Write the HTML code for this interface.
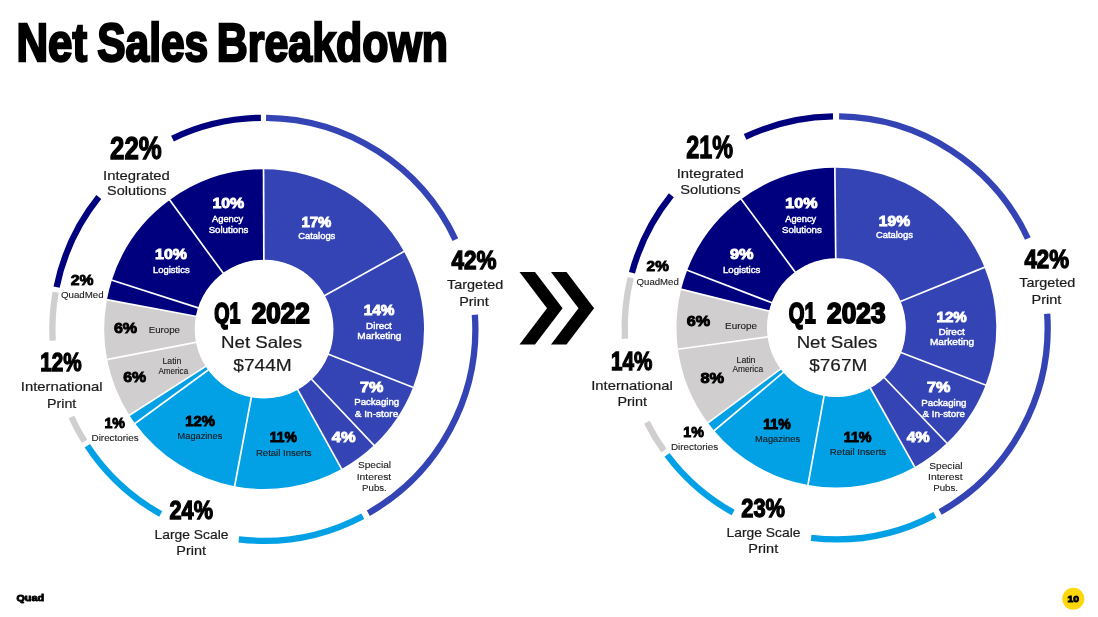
<!DOCTYPE html>
<html lang="en"><head><meta charset="utf-8"><title>Net Sales Breakdown</title>
<style>
html,body{margin:0;padding:0;background:#fff;}
body{width:1098px;height:617px;overflow:hidden;font-family:"Liberation Sans",sans-serif;}
svg{display:block}
text{font-family:"Liberation Sans",sans-serif;fill:#111;white-space:pre}
.title{font-weight:700;fill:#000;stroke:#000;stroke-width:2.4px;stroke-linejoin:miter;stroke-miterlimit:2.5}
.cond{font-weight:700;fill:#000;stroke:#000;stroke-width:1.3px;stroke-linejoin:miter;stroke-miterlimit:2.5}
.condq{font-weight:700;fill:#000;stroke:#000;stroke-width:1.9px;stroke-linejoin:miter;stroke-miterlimit:2.5}
.hv{font-weight:700;stroke-width:0.9px;stroke-linejoin:miter;stroke-miterlimit:2.5}
.lab{font-weight:400;fill:#1c1c1c;stroke:#1c1c1c;stroke-width:0.2px}
.sm{font-weight:400;stroke-width:0.12px}
.smw{font-weight:400;stroke-width:0.45px}
</style></head>
<body>
<svg width="1098" height="617" viewBox="0 0 1098 617">
<rect width="1098" height="617" fill="#fff"/>
<path d="M263.54 169.15A159.9 159.9 0 0 1 403.95 251.53L324.36 295.65A68.9 68.9 0 0 0 263.86 260.15Z" fill="#3444b4"/>
<path d="M403.95 251.53A159.9 159.9 0 0 1 412.98 387.39L328.25 354.19A68.9 68.9 0 0 0 324.36 295.65Z" fill="#3444b4"/>
<path d="M412.98 387.39A159.9 159.9 0 0 1 373.97 445.23L311.44 379.11A68.9 68.9 0 0 0 328.25 354.19Z" fill="#3444b4"/>
<path d="M373.97 445.23A159.9 159.9 0 0 1 341.62 468.90L297.50 389.31A68.9 68.9 0 0 0 311.44 379.11Z" fill="#3444b4"/>
<path d="M341.62 468.90A159.9 159.9 0 0 1 234.69 486.22L251.43 396.77A68.9 68.9 0 0 0 297.50 389.31Z" fill="#02a0e4"/>
<path d="M234.69 486.22A159.9 159.9 0 0 1 135.07 423.49L208.50 369.74A68.9 68.9 0 0 0 251.43 396.77Z" fill="#02a0e4"/>
<path d="M135.07 423.49A159.9 159.9 0 0 1 129.39 415.20L206.06 366.17A68.9 68.9 0 0 0 208.50 369.74Z" fill="#02a0e4"/>
<path d="M129.39 415.20A159.9 159.9 0 0 1 107.14 359.56L196.47 342.20A68.9 68.9 0 0 0 206.06 366.17Z" fill="#d0cece"/>
<path d="M107.14 359.56A159.9 159.9 0 0 1 106.93 299.64L196.38 316.38A68.9 68.9 0 0 0 196.47 342.20Z" fill="#d0cece"/>
<path d="M106.93 299.64A159.9 159.9 0 0 1 111.85 280.17L198.50 307.99A68.9 68.9 0 0 0 196.38 316.38Z" fill="#00007e"/>
<path d="M111.85 280.17A159.9 159.9 0 0 1 169.66 200.02L223.41 273.45A68.9 68.9 0 0 0 198.50 307.99Z" fill="#00007e"/>
<path d="M169.66 200.02A159.9 159.9 0 0 1 263.54 169.15L263.86 260.15A68.9 68.9 0 0 0 223.41 273.45Z" fill="#00007e"/>
<line x1="263.86" y1="260.65" x2="263.54" y2="168.65" stroke="#fff" stroke-width="1.7"/>
<line x1="323.92" y1="295.89" x2="404.39" y2="251.29" stroke="#fff" stroke-width="1.7"/>
<line x1="327.78" y1="354.01" x2="413.44" y2="387.58" stroke="#fff" stroke-width="1.7"/>
<line x1="311.10" y1="378.75" x2="374.31" y2="445.59" stroke="#fff" stroke-width="1.7"/>
<line x1="297.26" y1="388.87" x2="341.86" y2="469.34" stroke="#fff" stroke-width="1.7"/>
<line x1="251.52" y1="396.28" x2="234.59" y2="486.71" stroke="#fff" stroke-width="1.7"/>
<line x1="208.90" y1="369.45" x2="134.66" y2="423.78" stroke="#fff" stroke-width="1.7"/>
<line x1="206.48" y1="365.90" x2="128.97" y2="415.47" stroke="#fff" stroke-width="1.7"/>
<line x1="196.96" y1="342.10" x2="106.65" y2="359.66" stroke="#fff" stroke-width="1.7"/>
<line x1="196.87" y1="316.47" x2="106.44" y2="299.54" stroke="#fff" stroke-width="1.7"/>
<line x1="198.97" y1="308.14" x2="111.38" y2="280.02" stroke="#fff" stroke-width="1.7"/>
<line x1="223.70" y1="273.85" x2="169.37" y2="199.61" stroke="#fff" stroke-width="1.7"/>
<circle cx="264.1" cy="329.05" r="69.4" fill="#fff"/>
<path d="M266.06 117.81A211.5 211.5 0 0 1 455.38 239.58" fill="none" stroke="#3444b4" stroke-width="6.3"/>
<path d="M474.85 314.73A211.5 211.5 0 0 1 368.32 513.20" fill="none" stroke="#3444b4" stroke-width="6.3"/>
<path d="M362.82 516.22A211.5 211.5 0 0 1 238.81 539.31" fill="none" stroke="#02a0e4" stroke-width="6.3"/>
<path d="M160.67 513.92A211.5 211.5 0 0 1 87.28 445.73" fill="none" stroke="#02a0e4" stroke-width="6.3"/>
<path d="M84.49 441.38A211.5 211.5 0 0 1 71.39 417.01" fill="none" stroke="#d0cece" stroke-width="6.3"/>
<path d="M52.65 340.55A211.5 211.5 0 0 1 55.63 292.21" fill="none" stroke="#d0cece" stroke-width="6.3"/>
<path d="M56.60 287.13A211.5 211.5 0 0 1 98.79 197.06" fill="none" stroke="#00007e" stroke-width="6.3"/>
<path d="M172.46 138.56A211.5 211.5 0 0 1 260.90 117.82" fill="none" stroke="#00007e" stroke-width="6.3"/>
<path d="M834.87 167.71A159.9 159.9 0 0 1 984.50 267.31L900.22 301.62A68.9 68.9 0 0 0 835.74 258.70Z" fill="#3444b4"/>
<path d="M984.50 267.31A159.9 159.9 0 0 1 985.63 385.03L900.70 352.35A68.9 68.9 0 0 0 900.22 301.62Z" fill="#3444b4"/>
<path d="M985.63 385.03A159.9 159.9 0 0 1 946.97 443.11L884.05 377.37A68.9 68.9 0 0 0 900.70 352.35Z" fill="#3444b4"/>
<path d="M946.97 443.11A159.9 159.9 0 0 1 914.77 466.98L870.17 387.66A68.9 68.9 0 0 0 884.05 377.37Z" fill="#3444b4"/>
<path d="M914.77 466.98A159.9 159.9 0 0 1 807.95 484.95L824.14 395.40A68.9 68.9 0 0 0 870.17 387.66Z" fill="#02a0e4"/>
<path d="M807.95 484.95A159.9 159.9 0 0 1 714.18 430.70L783.74 372.03A68.9 68.9 0 0 0 824.14 395.40Z" fill="#02a0e4"/>
<path d="M714.18 430.70A159.9 159.9 0 0 1 707.95 422.82L781.05 368.63A68.9 68.9 0 0 0 783.74 372.03Z" fill="#02a0e4"/>
<path d="M707.95 422.82A159.9 159.9 0 0 1 677.96 349.16L768.13 336.89A68.9 68.9 0 0 0 781.05 368.63Z" fill="#d0cece"/>
<path d="M677.96 349.16A159.9 159.9 0 0 1 681.15 289.32L769.50 311.11A68.9 68.9 0 0 0 768.13 336.89Z" fill="#d0cece"/>
<path d="M681.15 289.32A159.9 159.9 0 0 1 687.17 270.17L772.10 302.85A68.9 68.9 0 0 0 769.50 311.11Z" fill="#00007e"/>
<path d="M687.17 270.17A159.9 159.9 0 0 1 741.18 199.15L795.37 272.25A68.9 68.9 0 0 0 772.10 302.85Z" fill="#00007e"/>
<path d="M741.18 199.15A159.9 159.9 0 0 1 834.87 167.71L835.74 258.70A68.9 68.9 0 0 0 795.37 272.25Z" fill="#00007e"/>
<line x1="835.74" y1="259.20" x2="834.86" y2="167.21" stroke="#fff" stroke-width="1.7"/>
<line x1="899.75" y1="301.81" x2="984.96" y2="267.12" stroke="#fff" stroke-width="1.7"/>
<line x1="900.24" y1="352.17" x2="986.10" y2="385.21" stroke="#fff" stroke-width="1.7"/>
<line x1="883.70" y1="377.01" x2="947.32" y2="443.47" stroke="#fff" stroke-width="1.7"/>
<line x1="869.93" y1="387.22" x2="915.02" y2="467.41" stroke="#fff" stroke-width="1.7"/>
<line x1="824.23" y1="394.91" x2="807.86" y2="485.44" stroke="#fff" stroke-width="1.7"/>
<line x1="784.12" y1="371.70" x2="713.80" y2="431.02" stroke="#fff" stroke-width="1.7"/>
<line x1="781.45" y1="368.33" x2="707.54" y2="423.12" stroke="#fff" stroke-width="1.7"/>
<line x1="768.62" y1="336.82" x2="677.47" y2="349.23" stroke="#fff" stroke-width="1.7"/>
<line x1="769.99" y1="311.23" x2="680.66" y2="289.20" stroke="#fff" stroke-width="1.7"/>
<line x1="772.56" y1="303.03" x2="686.70" y2="269.99" stroke="#fff" stroke-width="1.7"/>
<line x1="795.67" y1="272.65" x2="740.88" y2="198.74" stroke="#fff" stroke-width="1.7"/>
<circle cx="836.4" cy="327.6" r="69.4" fill="#fff"/>
<path d="M839.10 116.37A211.5 211.5 0 0 1 1027.83 238.47" fill="none" stroke="#3444b4" stroke-width="6.3"/>
<path d="M1047.19 313.83A211.5 211.5 0 0 1 940.14 512.02" fill="none" stroke="#3444b4" stroke-width="6.3"/>
<path d="M934.95 514.85A211.5 211.5 0 0 1 811.11 537.86" fill="none" stroke="#02a0e4" stroke-width="6.3"/>
<path d="M733.13 512.56A211.5 211.5 0 0 1 667.02 454.84" fill="none" stroke="#02a0e4" stroke-width="6.3"/>
<path d="M663.96 450.67A211.5 211.5 0 0 1 646.87 422.22" fill="none" stroke="#d0cece" stroke-width="6.3"/>
<path d="M624.93 338.73A211.5 211.5 0 0 1 630.67 277.76" fill="none" stroke="#d0cece" stroke-width="6.3"/>
<path d="M631.95 272.75A211.5 211.5 0 0 1 671.32 195.32" fill="none" stroke="#00007e" stroke-width="6.3"/>
<path d="M745.10 136.95A211.5 211.5 0 0 1 833.01 116.37" fill="none" stroke="#00007e" stroke-width="6.3"/>
<polygon points="519.5,272.0 535.0,272.0 562.6,308.3 535.0,344.5 519.5,344.5 547.0,308.3" fill="#000"/>
<polygon points="551.0,272.0 566.5,272.0 594.1,308.3 566.5,344.5 551.0,344.5 578.5,308.3" fill="#000"/>
<circle cx="1073.3" cy="598.7" r="11" fill="#fdd70a"/>
<g>
<text class="title" y="60.70" font-size="53.63"><tspan x="16.48" textLength="70.62" lengthAdjust="spacingAndGlyphs">Net</tspan> <tspan x="97.23" textLength="110.97" lengthAdjust="spacingAndGlyphs">Sales</tspan> <tspan x="216.74" textLength="231.24" lengthAdjust="spacingAndGlyphs">Breakdown</tspan></text>
<text class="hv" x="16.42" y="601.45" font-size="9.88" textLength="27.58" lengthAdjust="spacingAndGlyphs" style="fill:#000;stroke:#000">Quad</text>
<text class="hv" x="1067.49" y="602.45" font-size="9.46" textLength="11.56" lengthAdjust="spacingAndGlyphs" style="fill:#000;stroke:#000">10</text>
<text class="cond" x="110.09" y="159.35" font-size="31.52" textLength="51.70" lengthAdjust="spacingAndGlyphs">22%</text>
<text class="lab" x="103.02" y="179.55" font-size="12.7" textLength="66.77" lengthAdjust="spacingAndGlyphs">Integrated</text>
<text class="lab" x="107.13" y="195.05" font-size="12.7" textLength="59.41" lengthAdjust="spacingAndGlyphs">Solutions</text>
<text class="cond" x="451.47" y="268.95" font-size="26.07" textLength="45.03" lengthAdjust="spacingAndGlyphs">42%</text>
<text class="lab" x="447.06" y="288.65" font-size="12.7" textLength="56.17" lengthAdjust="spacingAndGlyphs">Targeted</text>
<text class="lab" x="459.20" y="305.55" font-size="12.7" textLength="29.59" lengthAdjust="spacingAndGlyphs">Print</text>
<text class="cond" x="169.53" y="519.15" font-size="25.79" textLength="43.46" lengthAdjust="spacingAndGlyphs">24%</text>
<text class="lab" x="154.55" y="538.65" font-size="12.7" textLength="73.96" lengthAdjust="spacingAndGlyphs">Large Scale</text>
<text class="lab" x="176.30" y="554.55" font-size="12.7" textLength="29.69" lengthAdjust="spacingAndGlyphs">Print</text>
<text class="cond" x="40.24" y="371.15" font-size="26.07" textLength="41.42" lengthAdjust="spacingAndGlyphs">12%</text>
<text class="lab" x="20.82" y="390.65" font-size="12.7" textLength="81.63" lengthAdjust="spacingAndGlyphs">International</text>
<text class="lab" x="47.01" y="407.75" font-size="12.7" textLength="29.27" lengthAdjust="spacingAndGlyphs">Print</text>
<text class="condq" y="322.95" font-size="29.37"><tspan x="214.16" textLength="26.19" lengthAdjust="spacingAndGlyphs">Q1</tspan> <tspan x="251.78" textLength="57.96" lengthAdjust="spacingAndGlyphs">2022</tspan></text>
<text class="lab" x="221.04" y="348.20" font-size="16.5" textLength="81.02" lengthAdjust="spacingAndGlyphs">Net Sales</text>
<text class="lab" x="233.31" y="370.50" font-size="16" textLength="58.50" lengthAdjust="spacingAndGlyphs">$744M</text>
<text class="hv" x="212.44" y="208.15" font-size="14.04" textLength="31.80" lengthAdjust="spacingAndGlyphs" style="fill:#fff;stroke:#fff">10%</text>
<text class="smw" x="211.99" y="222.08" font-size="9.7" textLength="31.10" lengthAdjust="spacingAndGlyphs" style="fill:#fff;stroke:#fff">Agency</text>
<text class="smw" x="208.67" y="232.58" font-size="9.7" textLength="39.76" lengthAdjust="spacingAndGlyphs" style="fill:#fff;stroke:#fff">Solutions</text>
<text class="hv" x="155.14" y="259.45" font-size="14.04" textLength="31.80" lengthAdjust="spacingAndGlyphs" style="fill:#fff;stroke:#fff">10%</text>
<text class="smw" x="152.94" y="272.57" font-size="9.7" textLength="36.69" lengthAdjust="spacingAndGlyphs" style="fill:#fff;stroke:#fff">Logistics</text>
<text class="hv" x="301.51" y="226.95" font-size="14.04" textLength="29.71" lengthAdjust="spacingAndGlyphs" style="fill:#fff;stroke:#fff">17%</text>
<text class="smw" x="298.26" y="239.47" font-size="9.7" textLength="37.06" lengthAdjust="spacingAndGlyphs" style="fill:#fff;stroke:#fff">Catalogs</text>
<text class="hv" x="363.68" y="315.35" font-size="14.04" textLength="30.75" lengthAdjust="spacingAndGlyphs" style="fill:#fff;stroke:#fff">14%</text>
<text class="smw" x="366.10" y="328.77" font-size="9.7" textLength="25.75" lengthAdjust="spacingAndGlyphs" style="fill:#fff;stroke:#fff">Direct</text>
<text class="smw" x="357.39" y="338.97" font-size="9.7" textLength="44.06" lengthAdjust="spacingAndGlyphs" style="fill:#fff;stroke:#fff">Marketing</text>
<text class="hv" x="359.95" y="392.35" font-size="14.04" textLength="23.31" lengthAdjust="spacingAndGlyphs" style="fill:#fff;stroke:#fff">7%</text>
<text class="smw" x="354.22" y="405.38" font-size="9.7" textLength="44.89" lengthAdjust="spacingAndGlyphs" style="fill:#fff;stroke:#fff">Packaging</text>
<text class="smw" x="354.86" y="416.57" font-size="9.7" textLength="43.33" lengthAdjust="spacingAndGlyphs" style="fill:#fff;stroke:#fff">&amp; In-store</text>
<text class="hv" x="331.78" y="442.25" font-size="14.04" textLength="23.69" lengthAdjust="spacingAndGlyphs" style="fill:#fff;stroke:#fff">4%</text>
<text class="sm" x="357.99" y="468.44" font-size="9.7" textLength="33.12" lengthAdjust="spacingAndGlyphs" style="fill:#222;stroke:#222">Special</text>
<text class="sm" x="356.69" y="479.94" font-size="9.7" textLength="34.53" lengthAdjust="spacingAndGlyphs" style="fill:#222;stroke:#222">Interest</text>
<text class="sm" x="362.05" y="490.94" font-size="9.7" textLength="24.76" lengthAdjust="spacingAndGlyphs" style="fill:#222;stroke:#222">Pubs.</text>
<text class="hv" x="269.87" y="442.25" font-size="14.04" textLength="27.05" lengthAdjust="spacingAndGlyphs" style="fill:#000;stroke:#000">11%</text>
<text class="sm" x="255.97" y="455.94" font-size="9.7" textLength="55.61" lengthAdjust="spacingAndGlyphs" style="fill:#1a1a1a;stroke:#1a1a1a">Retail Inserts</text>
<text class="hv" x="185.31" y="426.25" font-size="14.04" textLength="29.60" lengthAdjust="spacingAndGlyphs" style="fill:#000;stroke:#000">12%</text>
<text class="sm" x="177.59" y="439.44" font-size="9.7" textLength="44.68" lengthAdjust="spacingAndGlyphs" style="fill:#1a1a1a;stroke:#1a1a1a">Magazines</text>
<text class="hv" x="104.45" y="427.55" font-size="14.33" textLength="20.56" lengthAdjust="spacingAndGlyphs" style="fill:#000;stroke:#000">1%</text>
<text class="sm" x="91.54" y="440.84" font-size="9.7" textLength="47.15" lengthAdjust="spacingAndGlyphs" style="fill:#1a1a1a;stroke:#1a1a1a">Directories</text>
<text class="hv" x="123.27" y="382.15" font-size="14.47" textLength="22.88" lengthAdjust="spacingAndGlyphs" style="fill:#000;stroke:#000">6%</text>
<text class="sm" x="162.53" y="363.54" font-size="9.7" textLength="18.87" lengthAdjust="spacingAndGlyphs" style="fill:#1a1a1a;stroke:#1a1a1a">Latin</text>
<text class="sm" x="158.43" y="373.54" font-size="9.7" textLength="29.71" lengthAdjust="spacingAndGlyphs" style="fill:#1a1a1a;stroke:#1a1a1a">America</text>
<text class="hv" x="113.96" y="332.85" font-size="14.47" textLength="23.19" lengthAdjust="spacingAndGlyphs" style="fill:#000;stroke:#000">6%</text>
<text class="sm" x="148.65" y="332.74" font-size="9.7" textLength="31.39" lengthAdjust="spacingAndGlyphs" style="fill:#1a1a1a;stroke:#1a1a1a">Europe</text>
<text class="hv" x="70.83" y="284.55" font-size="14.76" textLength="22.72" lengthAdjust="spacingAndGlyphs" style="fill:#000;stroke:#000">2%</text>
<text class="sm" x="61.01" y="297.74" font-size="9.7" textLength="42.66" lengthAdjust="spacingAndGlyphs" style="fill:#1a1a1a;stroke:#1a1a1a">QuadMed</text>
<text class="cond" x="686.27" y="158.35" font-size="31.09" textLength="46.76" lengthAdjust="spacingAndGlyphs">21%</text>
<text class="lab" x="676.71" y="178.25" font-size="12.7" textLength="66.98" lengthAdjust="spacingAndGlyphs">Integrated</text>
<text class="lab" x="680.21" y="194.15" font-size="12.7" textLength="60.43" lengthAdjust="spacingAndGlyphs">Solutions</text>
<text class="cond" x="1024.48" y="267.85" font-size="25.93" textLength="44.62" lengthAdjust="spacingAndGlyphs">42%</text>
<text class="lab" x="1019.26" y="287.35" font-size="12.7" textLength="55.97" lengthAdjust="spacingAndGlyphs">Targeted</text>
<text class="lab" x="1031.49" y="303.55" font-size="12.7" textLength="29.90" lengthAdjust="spacingAndGlyphs">Print</text>
<text class="cond" x="741.32" y="517.15" font-size="25.64" textLength="43.67" lengthAdjust="spacingAndGlyphs">23%</text>
<text class="lab" x="726.55" y="536.65" font-size="12.7" textLength="73.96" lengthAdjust="spacingAndGlyphs">Large Scale</text>
<text class="lab" x="748.29" y="553.25" font-size="12.7" textLength="29.90" lengthAdjust="spacingAndGlyphs">Print</text>
<text class="cond" x="610.94" y="370.25" font-size="26.07" textLength="41.32" lengthAdjust="spacingAndGlyphs">14%</text>
<text class="lab" x="591.22" y="389.75" font-size="12.7" textLength="81.53" lengthAdjust="spacingAndGlyphs">International</text>
<text class="lab" x="617.40" y="405.55" font-size="12.7" textLength="29.59" lengthAdjust="spacingAndGlyphs">Print</text>
<text class="condq" y="323.35" font-size="29.51"><tspan x="788.84" textLength="26.93" lengthAdjust="spacingAndGlyphs">Q1</tspan> <tspan x="827.07" textLength="58.49" lengthAdjust="spacingAndGlyphs">2023</tspan></text>
<text class="lab" x="796.65" y="348.20" font-size="16.5" textLength="80.81" lengthAdjust="spacingAndGlyphs">Net Sales</text>
<text class="lab" x="809.31" y="370.50" font-size="16" textLength="57.88" lengthAdjust="spacingAndGlyphs">$767M</text>
<text class="hv" x="785.33" y="208.35" font-size="14.04" textLength="32.11" lengthAdjust="spacingAndGlyphs" style="fill:#fff;stroke:#fff">10%</text>
<text class="smw" x="785.29" y="222.08" font-size="9.7" textLength="30.90" lengthAdjust="spacingAndGlyphs" style="fill:#fff;stroke:#fff">Agency</text>
<text class="smw" x="781.97" y="232.58" font-size="9.7" textLength="39.76" lengthAdjust="spacingAndGlyphs" style="fill:#fff;stroke:#fff">Solutions</text>
<text class="hv" x="729.91" y="259.45" font-size="14.04" textLength="23.56" lengthAdjust="spacingAndGlyphs" style="fill:#fff;stroke:#fff">9%</text>
<text class="smw" x="722.92" y="272.67" font-size="9.7" textLength="37.51" lengthAdjust="spacingAndGlyphs" style="fill:#fff;stroke:#fff">Logistics</text>
<text class="hv" x="878.76" y="225.95" font-size="14.04" textLength="31.28" lengthAdjust="spacingAndGlyphs" style="fill:#fff;stroke:#fff">19%</text>
<text class="smw" x="875.96" y="238.47" font-size="9.7" textLength="36.96" lengthAdjust="spacingAndGlyphs" style="fill:#fff;stroke:#fff">Catalogs</text>
<text class="hv" x="936.59" y="321.55" font-size="14.04" textLength="30.23" lengthAdjust="spacingAndGlyphs" style="fill:#fff;stroke:#fff">12%</text>
<text class="smw" x="938.49" y="334.97" font-size="9.7" textLength="26.27" lengthAdjust="spacingAndGlyphs" style="fill:#fff;stroke:#fff">Direct</text>
<text class="smw" x="929.98" y="345.38" font-size="9.7" textLength="44.27" lengthAdjust="spacingAndGlyphs" style="fill:#fff;stroke:#fff">Marketing</text>
<text class="hv" x="927.05" y="391.55" font-size="14.04" textLength="23.31" lengthAdjust="spacingAndGlyphs" style="fill:#fff;stroke:#fff">7%</text>
<text class="smw" x="921.32" y="405.77" font-size="9.7" textLength="45.20" lengthAdjust="spacingAndGlyphs" style="fill:#fff;stroke:#fff">Packaging</text>
<text class="smw" x="922.47" y="416.77" font-size="9.7" textLength="42.42" lengthAdjust="spacingAndGlyphs" style="fill:#fff;stroke:#fff">&amp; In-store</text>
<text class="hv" x="906.79" y="442.25" font-size="14.04" textLength="22.97" lengthAdjust="spacingAndGlyphs" style="fill:#fff;stroke:#fff">4%</text>
<text class="sm" x="929.39" y="468.64" font-size="9.7" textLength="33.12" lengthAdjust="spacingAndGlyphs" style="fill:#222;stroke:#222">Special</text>
<text class="sm" x="928.09" y="480.04" font-size="9.7" textLength="34.53" lengthAdjust="spacingAndGlyphs" style="fill:#222;stroke:#222">Interest</text>
<text class="sm" x="933.25" y="490.74" font-size="9.7" textLength="24.76" lengthAdjust="spacingAndGlyphs" style="fill:#222;stroke:#222">Pubs.</text>
<text class="hv" x="843.75" y="442.25" font-size="14.04" textLength="27.78" lengthAdjust="spacingAndGlyphs" style="fill:#000;stroke:#000">11%</text>
<text class="sm" x="829.86" y="455.14" font-size="9.7" textLength="56.33" lengthAdjust="spacingAndGlyphs" style="fill:#1a1a1a;stroke:#1a1a1a">Retail Inserts</text>
<text class="hv" x="763.36" y="428.75" font-size="14.04" textLength="27.26" lengthAdjust="spacingAndGlyphs" style="fill:#000;stroke:#000">11%</text>
<text class="sm" x="754.98" y="442.04" font-size="9.7" textLength="45.09" lengthAdjust="spacingAndGlyphs" style="fill:#1a1a1a;stroke:#1a1a1a">Magazines</text>
<text class="hv" x="683.35" y="437.15" font-size="14.04" textLength="20.56" lengthAdjust="spacingAndGlyphs" style="fill:#000;stroke:#000">1%</text>
<text class="sm" x="670.94" y="449.54" font-size="9.7" textLength="47.15" lengthAdjust="spacingAndGlyphs" style="fill:#1a1a1a;stroke:#1a1a1a">Directories</text>
<text class="hv" x="700.50" y="383.35" font-size="14.04" textLength="23.66" lengthAdjust="spacingAndGlyphs" style="fill:#000;stroke:#000">8%</text>
<text class="sm" x="736.53" y="362.94" font-size="9.7" textLength="18.98" lengthAdjust="spacingAndGlyphs" style="fill:#1a1a1a;stroke:#1a1a1a">Latin</text>
<text class="sm" x="732.43" y="372.44" font-size="9.7" textLength="30.61" lengthAdjust="spacingAndGlyphs" style="fill:#1a1a1a;stroke:#1a1a1a">America</text>
<text class="hv" x="686.86" y="326.05" font-size="14.04" textLength="23.40" lengthAdjust="spacingAndGlyphs" style="fill:#000;stroke:#000">6%</text>
<text class="sm" x="725.14" y="328.94" font-size="9.7" textLength="31.91" lengthAdjust="spacingAndGlyphs" style="fill:#1a1a1a;stroke:#1a1a1a">Europe</text>
<text class="hv" x="646.64" y="271.35" font-size="14.04" textLength="22.10" lengthAdjust="spacingAndGlyphs" style="fill:#000;stroke:#000">2%</text>
<text class="sm" x="636.61" y="285.34" font-size="9.7" textLength="42.15" lengthAdjust="spacingAndGlyphs" style="fill:#1a1a1a;stroke:#1a1a1a">QuadMed</text>
</g>
</svg>
</body></html>
